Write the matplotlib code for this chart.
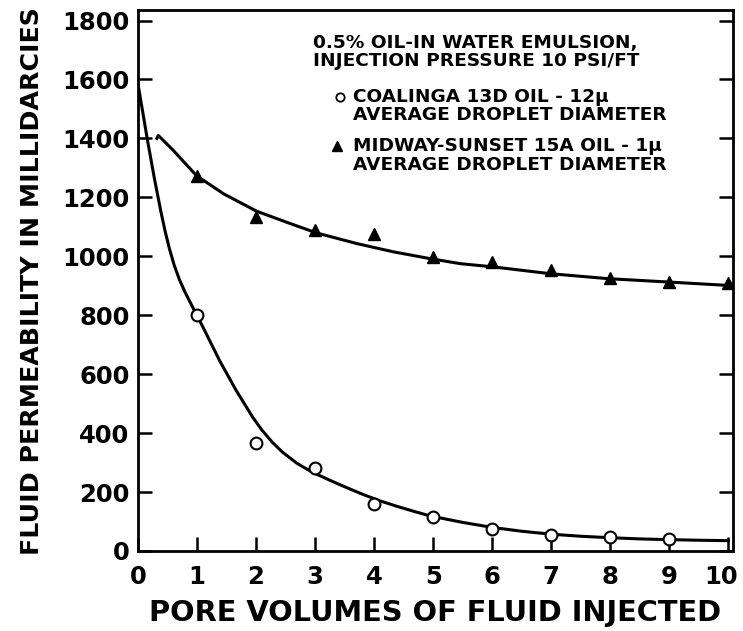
import numpy as np
import matplotlib
matplotlib.use("Agg")
import matplotlib.pyplot as plt
import matplotlib.transforms as mtransforms
from matplotlib.lines import Line2D

# measured points
pv = [1, 2, 3, 4, 5, 6, 7, 8, 9]
coalinga = [800, 365, 280, 160, 116, 75, 54, 46, 41]
pv_tri = [1, 2, 3, 4, 5, 6, 7, 8, 9, 10]
midway = [1274, 1133, 1088, 1077, 997, 981, 953, 925, 913, 910]

# hand-drawn fitted curves
coal_cx = [0, 0.08, 0.16, 0.28, 0.39, 0.46, 0.53, 0.61, 0.70, 0.80, 0.93, 1.10, 1.38, 1.66, 1.94,
           2.1, 2.28, 2.45, 2.69, 2.85, 3.0, 3.25, 3.5, 3.81, 4.1, 4.38, 4.7, 4.95, 5.5, 6.0, 6.5,
           7.0, 7.5, 8.0, 8.5, 9.0, 9.5, 10.0]
coal_cy = [1585, 1490, 1395, 1262, 1150, 1085, 1028, 972, 922, 877, 826, 760, 647, 546, 455,
           410, 368, 335, 298, 279, 263, 240, 218, 192, 170, 152, 133, 119, 97, 80, 67,
           57, 50, 45, 41, 38.5, 36.5, 35]
mid_cx = [0.32, 0.345, 0.6, 0.99, 1.45, 2.01, 2.58, 3.03, 3.71, 4.33, 4.95, 5.46, 6.02, 6.98,
          7.97, 8.96, 9.92, 10.0]
mid_cy = [1400, 1410, 1359, 1274, 1212, 1153, 1111, 1079, 1043, 1015, 992, 975, 964, 941,
          924, 913, 902, 901]

yticks = [0, 200, 400, 600, 800, 1000, 1200, 1400, 1600, 1800]
xticks = [0, 1, 2, 3, 4, 5, 6, 7, 8, 9, 10]

note_lines = ['0.5% OIL-IN WATER EMULSION,',
              'INJECTION PRESSURE 10 PSI/FT',
              'COALINGA 13D OIL - 12\u03bc',
              'AVERAGE DROPLET DIAMETER',
              'MIDWAY-SUNSET 15A OIL - 1\u03bc',
              'AVERAGE DROPLET DIAMETER']

plt.rcParams['font.family'] = ['DejaVu Sans']
plt.rcParams['font.weight'] = 'bold'

fig = plt.figure(figsize=(7.43, 6.31), dpi=100)
ax = fig.add_axes([0.1857, 0.1268, 0.8009, 0.857])

ax.plot(coal_cx, coal_cy, color='black', lw=2.2, solid_joinstyle='round')
ax.plot(mid_cx, mid_cy, color='black', lw=2.2, solid_joinstyle='round')
ax.plot(pv, coalinga, 'o', ms=8.5, mfc='white', mec='black', mew=1.5)
ax.plot(pv_tri, midway, '^', ms=9, color='black')

ax.set_xlim(0, 10.08)
ax.set_ylim(0, 1835)
ax.set_xticks(xticks)
ax.set_yticks(yticks)
ax.tick_params(axis='both', direction='in', length=10, width=1.8, labelsize=17.5)
ax.tick_params(axis='y', right=True, pad=6)
ax.tick_params(axis='x', pad=10)
for s in ax.spines.values():
    s.set_linewidth(2)

# last x tick label sits at the edge of the picture; nudge it left a bit
last = ax.get_xticklabels()[-1]
last.set_transform(last.get_transform() + mtransforms.ScaledTranslation(-7 / 100, 0, fig.dpi_scale_trans))

ax.set_xlabel('PORE VOLUMES OF FLUID INJECTED', fontsize=20.8, fontweight='bold', labelpad=7)
ax.set_ylabel('FLUID PERMEABILITY IN MILLIDARCIES', fontsize=18.2, fontweight='bold', labelpad=13)

# annotation block, positions in pixels from top-left
note_pos = [(313, 43), (313, 61), (353, 97), (353, 115), (353, 146), (353, 165)]
for (x, y), s in zip(note_pos, note_lines):
    fig.text(x / 743, 1 - y / 631, s, fontsize=13.3, va='center', ha='left')
fig.add_artist(Line2D([340 / 743], [1 - 97 / 631], marker='o', ms=6, mfc='white', mec='black',
                      mew=1.3, transform=fig.transFigure))
fig.add_artist(Line2D([337 / 743], [1 - 146 / 631], marker='^', ms=7, color='black',
                      transform=fig.transFigure))

fig.savefig('out.png', dpi=100)
